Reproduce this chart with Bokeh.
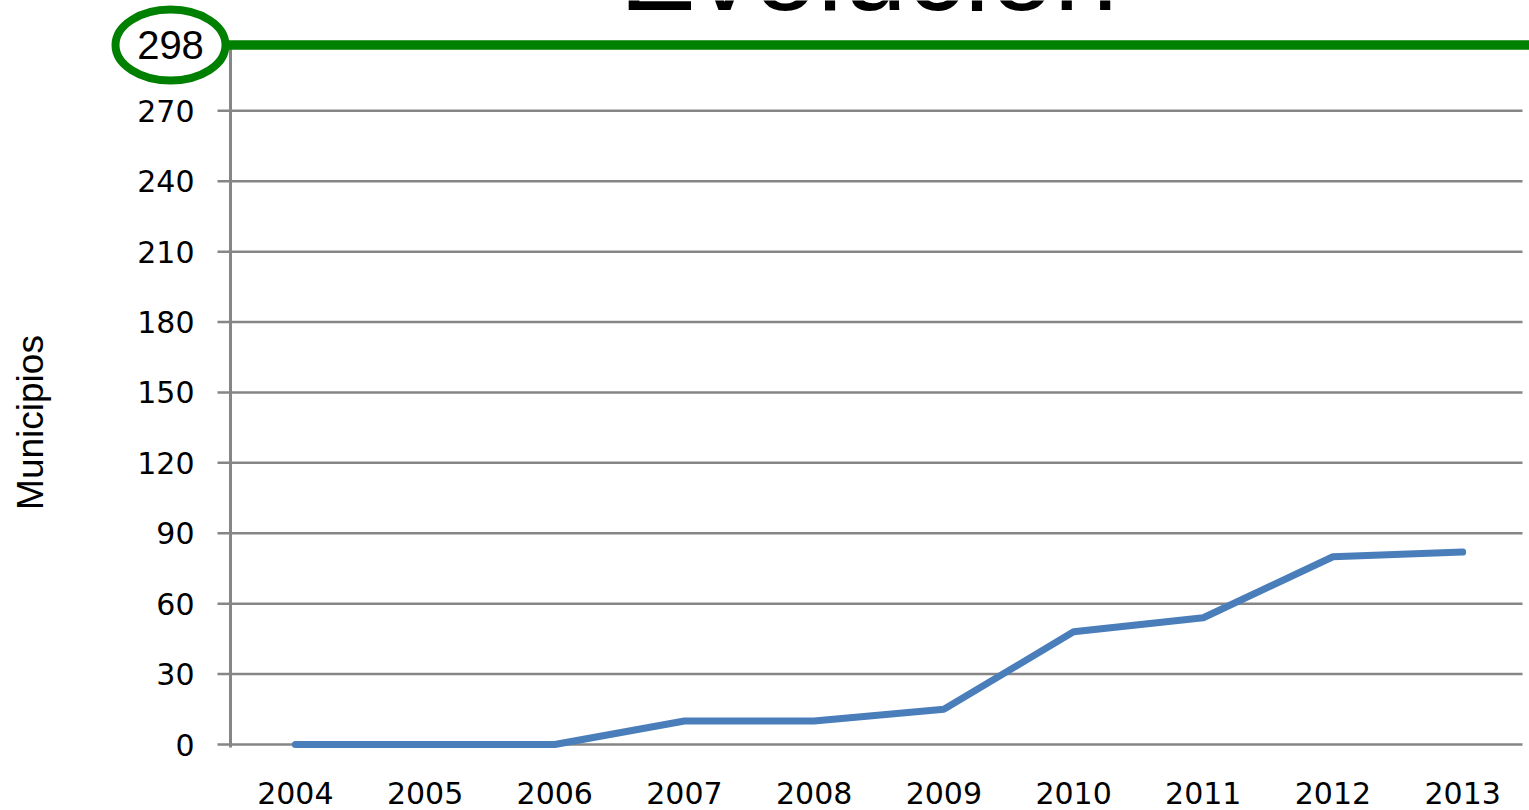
import numpy as np
from bokeh.plotting import figure
from bokeh.models import Range1d
from bokeh.core.properties import value
from bokeh.embed import file_html
from bokeh.resources import INLINE

# Municipios adheridos por año
years = ["2004", "2005", "2006", "2007", "2008", "2009", "2010", "2011", "2012", "2013"]
municipios = [0, 0, 0, 10, 10, 15, 48, 54, 80, 82]
y_ticks = [0, 30, 60, 90, 120, 150, 180, 210, 240, 270]
total_municipios = 298

GRAY = "#868686"
GREEN = "#008000"
BLUE = "#4A7EBB"

W, H = 1529, 810
PLOT_LEFT = 230          # px where the value axis sits
SLOT = 129.7             # px per year
PX_PER_UNIT = 2.347      # px per municipio
BASE = 744               # px of the zero line

# one unit on x = one year slot; the year slots start at x = 0
x_pos = [i + 0.5 for i in range(len(years))]
px_x = 1.0 / SLOT
px_y = 1.0 / PX_PER_UNIT

p = figure(
    title=None,
    x_range=Range1d(-PLOT_LEFT * px_x, (W - PLOT_LEFT) * px_x),
    y_range=Range1d(-(H - BASE) * px_y, BASE * px_y),
    width=W,
    height=H,
    output_backend="svg",
    toolbar_location=None,
    x_axis_location=None,
    y_axis_location=None,
    min_border=0,
)
p.outline_line_color = None
p.xgrid.visible = False
p.ygrid.visible = False

grid_end = len(years) - 5 * px_x

# horizontal grid lines (the zero line doubles as the category axis)
p.segment(x0=0, x1=grid_end, y0=y_ticks, y1=y_ticks,
          line_color=GRAY, line_width=2.5)

# year labels
p.text(x=x_pos, y=(BASE - 792) * px_y, text=years,
       text_font=value("DejaVu Sans"), text_font_size="30px",
       text_align="center", text_baseline="middle", text_color="black")

# value axis: line, ticks and labels
p.segment(x0=[0], x1=[0], y0=[-3 * px_y], y1=[total_municipios],
          line_color=GRAY, line_width=3)
p.segment(x0=-13 * px_x, x1=0, y0=y_ticks, y1=y_ticks,
          line_color=GRAY, line_width=2.5)
p.text(x=-36 * px_x, y=y_ticks, text=[str(v) for v in y_ticks],
       text_font=value("DejaVu Sans"), text_font_size="30px",
       text_align="right", text_baseline="middle", text_color="black")
p.text(x=[-200 * px_x], y=[(BASE - 422) * px_y], text=["Municipios"],
       angle=np.pi / 2, text_font=value("Liberation Sans"),
       text_font_size="37px", text_align="center", text_baseline="middle",
       text_color="black")

# evolution line
p.line(x_pos, municipios, line_color=BLUE, line_width=7,
       line_cap="round", line_join="round")

# total reference line
p.segment(x0=[-5 * px_x], x1=[(W - PLOT_LEFT) * px_x],
          y0=[total_municipios], y1=[total_municipios],
          line_color=GREEN, line_width=9.5)

# circled total label
cx = -60 * px_x
p.ellipse(x=[cx], y=[total_municipios], width=110, height=71,
          width_units="screen", height_units="screen",
          fill_color=None, line_color=GREEN, line_width=8)
p.text(x=[cx], y=[total_municipios], text=[str(total_municipios)],
       text_font=value("Liberation Sans"), text_font_size="40px",
       text_align="center", text_baseline="middle", text_color="black")

# heading, only its lower edge shows above the chart
p.text(x=[(868 - PLOT_LEFT) * px_x], y=[(BASE + 31) * px_y], text=["Evolución"],
       text_font=value("Liberation Sans"), text_font_size="115px",
       text_align="center", text_baseline="alphabetic", text_color="black")

open("out.html", "w").write(file_html(p, INLINE))
